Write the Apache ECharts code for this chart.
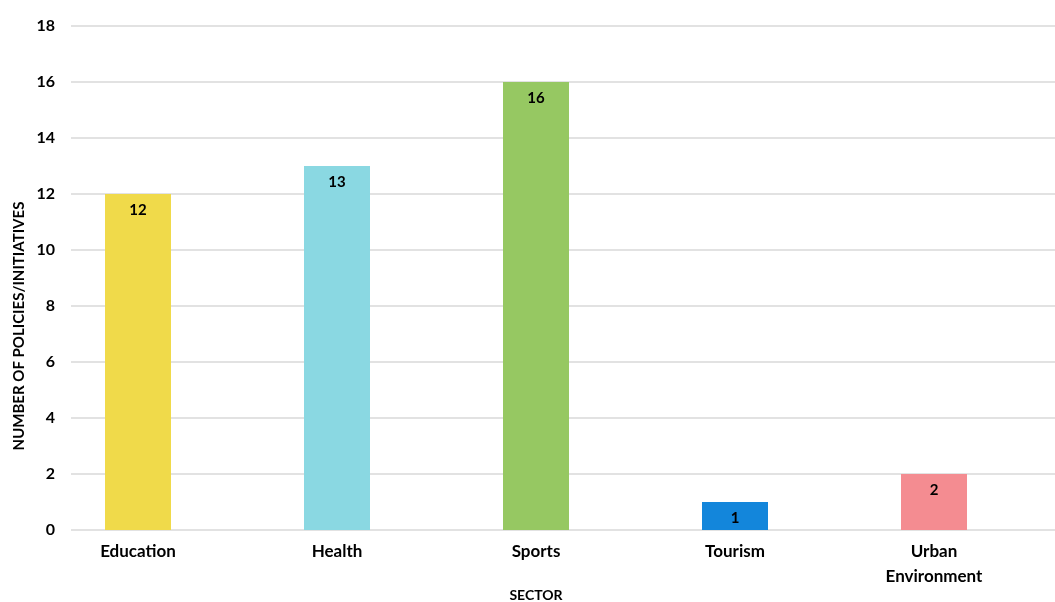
<!DOCTYPE html>
<html>
<head>
<meta charset="utf-8">
<script src="https://cdn.jsdelivr.net/npm/echarts@6/dist/echarts.min.js"></script>
<style>
    html, body { margin: 0; padding: 0; background: #fff; }
    #chart1 { width: 1055px; height: 602px; }
</style>
</head>
<body>
<div id="chart1"></div>
<script>
    var categories = ['Education', 'Health', 'Sports', 'Tourism', 'Urban\nEnvironment'];
    var counts = [12, 13, 16, 1, 2];
    var barColors = ['#f0da4a', '#8ad8e2', '#96c862', '#1386db', '#f48c91'];

    var font = 'Lato, "Open Sans", sans-serif';
    var chart1 = echarts.init(document.getElementById('chart1'));

    var option = {
        animation: false,
        textStyle: {fontFamily: font},
        grid: [
            // grid lines + y labels
            {left: 71, right: 0, top: 26, bottom: 72, outerBoundsMode: 'none', containLabel: false},
            // bars
            {left: 38.5, width: 995, top: 26, bottom: 72, outerBoundsMode: 'none', containLabel: false}
        ],
        xAxis: [
            {
                gridIndex: 0, type: 'category', data: categories,
                show: false
            },
            {
                gridIndex: 1, type: 'category', data: categories,
                name: 'SECTOR',
                nameLocation: 'middle',
                nameGap: 58,
                nameMoveOverlap: false,
                nameTextStyle: {color: '#000', fontWeight: 'bold', fontSize: 14, fontFamily: font},
                axisTick: {show: false},
                axisLine: {show: false},
                axisLabel: {
                    color: '#000', fontWeight: 'bold', fontSize: 17, fontFamily: font,
                    margin: 9, lineHeight: 25
                }
            }
        ],
        yAxis: [
            {
                gridIndex: 0, type: 'value', min: 0, max: 18, interval: 2,
                name: 'NUMBER OF POLICIES/INITIATIVES',
                nameLocation: 'middle',
                nameGap: 44,
                nameMoveOverlap: false,
                nameTextStyle: {
                    color: '#000', fontWeight: 'bold', fontSize: 15, fontFamily: font,
                    padding: [0, 96, 0, 0]
                },
                axisLine: {show: false},
                axisTick: {show: false},
                splitLine: {lineStyle: {color: '#d9d9d9', width: 1.5}},
                axisLabel: {color: '#000', fontWeight: 'bold', fontSize: 16, fontFamily: font, margin: 16}
            },
            {
                gridIndex: 1, type: 'value', min: 0, max: 18, interval: 2,
                show: false
            }
        ],
        series: [
            {
                type: 'bar',
                xAxisIndex: 1,
                yAxisIndex: 1,
                barWidth: 66,
                data: counts.map(function (v, i) {
                    return {value: v, itemStyle: {color: barColors[i]}};
                }),
                label: {
                    show: true,
                    position: 'insideTop',
                    distance: 9,
                    color: '#000',
                    fontWeight: 'bold',
                    fontSize: 15,
                    fontFamily: font
                }
            }
        ]
    };

    chart1.setOption(option);
</script>
</body>
</html>
